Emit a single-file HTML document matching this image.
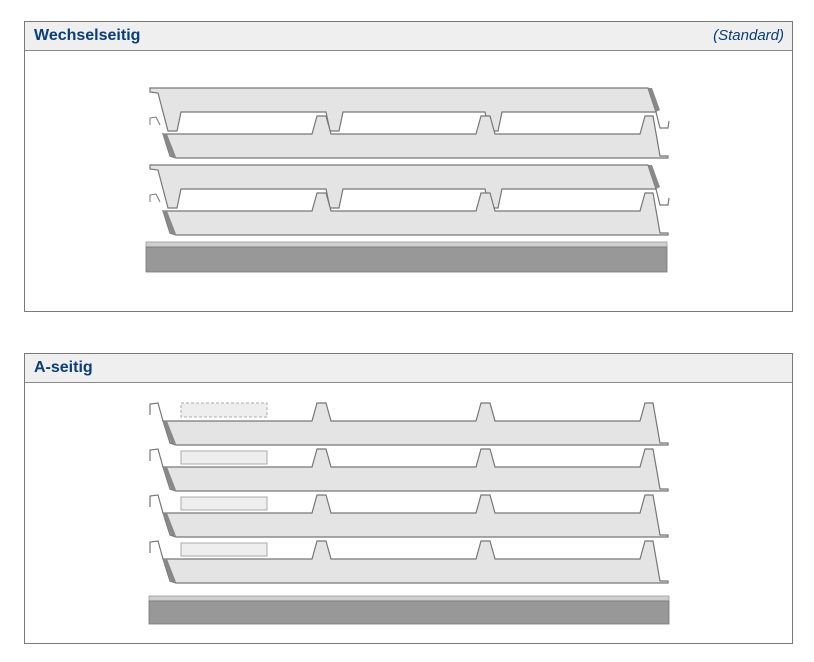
<!DOCTYPE html>
<html><head><meta charset="utf-8"><style>
body{margin:0;background:#fff;width:814px;height:662px;overflow:hidden;font-family:"Liberation Sans",Arial,sans-serif}
.box{position:absolute;left:24px;width:767px;border:1px solid #7a7a7a;background:#fff}
.hd{height:28px;border-bottom:1px solid #8a8a8a;background:#efefef;position:relative}
.hd b{position:absolute;left:9px;top:5px;font-size:16px;color:#0a3d7a}
.hd i{position:absolute;right:8px;top:5px;font-size:15px;color:#0a3d7a}
svg{position:absolute;left:0;top:0}
</style></head><body>
<div class="box" style="top:21px;height:289px"><div class="hd"><b>Wechselseitig</b><i>(Standard)</i></div></div>
<div class="box" style="top:353px;height:289px"><div class="hd"><b>A-seitig</b></div></div>
<svg width="814" height="662" viewBox="0 0 814 662">
<defs>
<g id="dn"><!-- downward ribs panel, top at 0 -->
<polygon points="150,0 648,0 656,24 502,24 498,43 489,43 485,24 343,24 339,43 330,43 326,24 181,24 177,43 168,43 158,5 150,4" fill="#e4e4e4" stroke="#777" stroke-width="1.2"/>
<polygon points="648,0 652,0 660,22 656,24" fill="#888"/>
<path d="M656,24 L660,40 L668,40 L669,33" fill="none" stroke="#777" stroke-width="1.2"/>
</g>
<g id="up"><!-- upward ribs panel, rib top at 0 -->
<polygon points="163,18 312,18 317,0 326,0 331,18 476,18 481,0 490,0 495,18 640,18 645,0 653,0 660,40 668,40 668,42 176,42 170,40" fill="#e4e4e4" stroke="#777" stroke-width="1.2"/>
<polygon points="162,17 167,18 176,41 171,40" fill="#888"/>
</g>
<g id="hook"><path d="M150,12 L150,1 L158,0 L163,18" fill="none" stroke="#777" stroke-width="1.2"/></g>
</defs>
<use href="#dn" x="0" y="88"/>
<use href="#up" x="0" y="116"/>
<path d="M150,125 L150,118 L156,117 L160,125" fill="none" stroke="#777"/>
<use href="#dn" x="0" y="165"/>
<use href="#up" x="0" y="193"/>
<path d="M150,202 L150,195 L156,194 L160,202" fill="none" stroke="#777"/>
<rect x="146" y="242" width="521" height="5" fill="#cfcfcf" stroke="#999" stroke-width="0.8"/>
<rect x="146" y="247" width="521" height="25" fill="#989898" stroke="#777" stroke-width="0.8"/>

<g transform="translate(0,403)"><use href="#up"/><use href="#hook"/></g>
<g transform="translate(0,449)"><use href="#up"/><use href="#hook"/></g>
<g transform="translate(0,495)"><use href="#up"/><use href="#hook"/></g>
<g transform="translate(0,541)"><use href="#up"/><use href="#hook"/></g>
<rect x="181" y="403" width="86" height="14" fill="#eee" stroke="#aaa" stroke-dasharray="3,2"/>
<rect x="181" y="451" width="86" height="13" fill="#eee" stroke="#aaa"/>
<rect x="181" y="497" width="86" height="13" fill="#eee" stroke="#aaa"/>
<rect x="181" y="543" width="86" height="13" fill="#eee" stroke="#aaa"/>
<rect x="149" y="596" width="520" height="5" fill="#cfcfcf" stroke="#999" stroke-width="0.8"/>
<rect x="149" y="601" width="520" height="23" fill="#989898" stroke="#777" stroke-width="0.8"/>
</svg>
</body></html>
